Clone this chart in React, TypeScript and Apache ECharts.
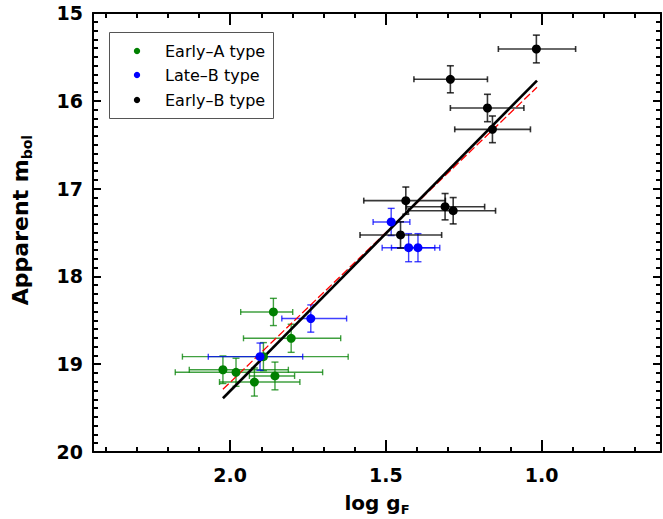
import React, { useEffect, useRef } from "react";
import * as echarts from "echarts";

// ---- data ----
const groupNames = ["Early–A type", "Late–B type", "Early–B type"];
const groupColors = ["#008000", "#0000ff", "#000000"];
const barColors = ["rgba(0,128,0,0.75)", "rgba(0,0,255,0.75)", "rgba(0,0,0,0.78)"];

// Early-A
const eaX = [1.861, 1.804, 1.893, 2.023, 1.981, 1.922, 1.856];
const eaY = [18.405, 18.705, 18.914, 19.063, 19.092, 19.203, 19.134];
const eaXLo = [1.966, 1.957, 2.153, 2.131, 2.176, 2.034, 1.938];
const eaXHi = [1.799, 1.645, 1.621, 1.813, 1.703, 1.776, 1.793];
const eaYErr = [0.155, 0.16, 0.16, 0.157, 0.16, 0.16, 0.158];

// Late-B
const lbX = [1.483, 1.427, 1.397, 1.741, 1.904];
const lbY = [17.38, 17.673, 17.673, 18.48, 18.914];
const lbXLo = [1.541, 1.512, 1.482, 1.834, 2.07];
const lbXHi = [1.423, 1.343, 1.327, 1.626, 1.767];
const lbYErr = [0.155, 0.16, 0.16, 0.155, 0.155];

// Early-B
const ebX = [1.017, 1.293, 1.174, 1.158, 1.436, 1.31, 1.284, 1.453];
const ebY = [15.41, 15.755, 16.082, 16.325, 17.137, 17.206, 17.252, 17.528];
const ebXLo = [1.139, 1.41, 1.293, 1.279, 1.571, 1.434, 1.428, 1.583];
const ebXHi = [0.891, 1.174, 1.057, 1.036, 1.309, 1.183, 1.148, 1.321];
const ebYErr = [0.158, 0.154, 0.156, 0.152, 0.155, 0.15, 0.15, 0.15];

// fits
const fitBlackX = [2.023, 1.015];
const fitBlackY = [19.388, 15.77];
const fitRedX = [2.023, 1.015];
const fitRedY = [19.286, 15.846];

// axes
const xMin = 0.617;
const xMax = 2.44;
const xMajor = [2.0, 1.5, 1.0];
const xMinor = [2.4, 2.3, 2.2, 2.1, 1.9, 1.8, 1.7, 1.6, 1.4, 1.3, 1.2, 1.1, 0.9, 0.8, 0.7];
const yMin = 15;
const yMax = 20;

const groups = [
  { x: eaX, y: eaY, lo: eaXLo, hi: eaXHi, ye: eaYErr },
  { x: lbX, y: lbY, lo: lbXLo, hi: lbXHi, ye: lbYErr },
  { x: ebX, y: ebY, lo: ebXLo, hi: ebXHi, ye: ebYErr },
];

const FONT = "DejaVu Sans";

export default function App() {
  const ref = useRef<HTMLDivElement>(null);
  useEffect(() => {
    if (!ref.current) return;
    const chart = echarts.init(ref.current, null, { renderer: "svg" });

    const errSeries = groups.map((g, gi) => ({
      type: "custom",
      xAxisIndex: 0,
      yAxisIndex: 0,
      z: 2,
      silent: true,
      encode: { x: [0, 2, 3], y: [1] },
      data: g.x.map((xv, i) => [xv, g.y[i], g.lo[i], g.hi[i], g.ye[i]]),
      renderItem: (params: any, api: any) => {
        const x = api.value(0), y = api.value(1), lo = api.value(2), hi = api.value(3), ye = api.value(4);
        const pL = api.coord([lo, y]);
        const pR = api.coord([hi, y]);
        const pT = api.coord([x, y - ye]);
        const pB = api.coord([x, y + ye]);
        const st = { stroke: barColors[gi], lineWidth: gi === 2 ? 1.6 : 1.4, fill: "none" };
        const ln = (x1: number, y1: number, x2: number, y2: number) => ({
          type: "line",
          shape: { x1, y1, x2, y2 },
          style: st,
        });
        const cx = 3, cy = 3.5;
        return {
          type: "group",
          children: [
            ln(pL[0], pL[1], pR[0], pR[1]),
            ln(pL[0], pL[1] - cx, pL[0], pL[1] + cx),
            ln(pR[0], pR[1] - cx, pR[0], pR[1] + cx),
            ln(pT[0], pT[1], pB[0], pB[1]),
            ln(pT[0] - cy, pT[1], pT[0] + cy, pT[1]),
            ln(pB[0] - cy, pB[1], pB[0] + cy, pB[1]),
          ],
        };
      },
    }));

    const scatterSeries = groups.map((g, gi) => ({
      type: "scatter",
      name: groupNames[gi],
      xAxisIndex: 0,
      yAxisIndex: 0,
      z: 4,
      symbol: "circle",
      symbolSize: 9,
      itemStyle: { color: groupColors[gi], opacity: 1 },
      data: g.x.map((xv, i) => [xv, g.y[i]]),
    }));

    const lineSeries = [
      {
        type: "line",
        xAxisIndex: 0,
        yAxisIndex: 0,
        z: 3,
        symbol: "none",
        lineStyle: { color: "#ff0000", width: 1.3, type: [8, 3] },
        data: fitRedX.map((v, i) => [v, fitRedY[i]]),
      },
      {
        type: "line",
        xAxisIndex: 0,
        yAxisIndex: 0,
        z: 3,
        symbol: "none",
        lineStyle: { color: "#000000", width: 2.6 },
        data: fitBlackX.map((v, i) => [v, fitBlackY[i]]),
      },
    ];

    const axisLine = { show: true, onZero: false, lineStyle: { color: "#000", width: 2 } };
    const xBase = (position: string, values: number[], len: number, showLine: boolean, labels: boolean) => ({
      type: "value",
      position,
      min: xMin,
      max: xMax,
      inverse: true,
      axisLine: showLine ? axisLine : { show: false },
      splitLine: { show: false },
      axisTick: {
        show: true,
        inside: true,
        length: len,
        customValues: values,
        lineStyle: { color: "#000", width: 2 },
      },
      axisLabel: labels
        ? {
            show: true,
            customValues: values,
            formatter: (v: number) => v.toFixed(1),
            margin: 13,
            color: "#000",
            fontFamily: FONT,
            fontWeight: "bold",
            fontSize: 19,
          }
        : { show: false },
    });

    const yBase = (position: string, labels: boolean) => ({
      type: "value",
      position,
      min: yMin,
      max: yMax,
      interval: 1,
      inverse: true,
      axisLine: axisLine,
      splitLine: { show: false },
      axisTick: { show: true, inside: true, length: 8, lineStyle: { color: "#000", width: 2 } },
      minorTick: { show: true, splitNumber: 10, length: 5, lineStyle: { color: "#000", width: 2 } },
      minorSplitLine: { show: false },
      axisLabel: labels
        ? { show: true, margin: 10, color: "#000", fontFamily: FONT, fontWeight: "bold", fontSize: 19 }
        : { show: false },
    });

    const legendRows = [51, 75, 100];
    const legendGraphics: any[] = [
      {
        type: "rect",
        left: 109,
        top: 32,
        shape: { width: 164, height: 86 },
        style: { fill: "#fff", stroke: "#555", lineWidth: 1 },
        z: 10,
      },
    ];
    groupNames.forEach((n, i) => {
      legendGraphics.push({
        type: "circle",
        shape: { cx: 137, cy: legendRows[i], r: 3.2 },
        style: { fill: groupColors[i] },
        z: 11,
      });
      legendGraphics.push({
        type: "text",
        x: 165,
        y: legendRows[i],
        style: { text: n, fill: "#000", font: `16px '${FONT}'`, verticalAlign: "middle", align: "left" },
        z: 11,
      });
    });

    const option: any = {
      animation: false,
      grid: { left: 93, right: 2, top: 13, bottom: 67, containLabel: false },
      xAxis: [
        xBase("bottom", xMajor, 12, true, true),
        xBase("bottom", xMinor, 5, false, false),
        xBase("top", xMajor, 12, true, false),
        xBase("top", xMinor, 5, false, false),
      ],
      yAxis: [yBase("left", true), yBase("right", false)],
      series: [...errSeries, ...lineSeries, ...scatterSeries],
      graphic: [
        ...legendGraphics,
        {
          type: "text",
          x: 377,
          y: 503,
          style: {
            text: "{a|log g}{b|F}",
            align: "center",
            verticalAlign: "middle",
            rich: {
              a: { fontFamily: FONT, fontWeight: "bold", fontSize: 20, lineHeight: 26, fill: "#000" },
              b: { fontFamily: FONT, fontWeight: "bold", fontSize: 13, lineHeight: 13, verticalAlign: "bottom", fill: "#000" },
            },
          },
        },
        {
          type: "text",
          x: 20,
          y: 220,
          rotation: Math.PI / 2,
          style: {
            text: "{a|Apparent m}{b|bol}",
            align: "center",
            verticalAlign: "middle",
            rich: {
              a: { fontFamily: FONT, fontWeight: "bold", fontSize: 22, lineHeight: 28, fill: "#000" },
              b: { fontFamily: FONT, fontWeight: "bold", fontSize: 14, lineHeight: 14, verticalAlign: "bottom", fill: "#000" },
            },
          },
        },
      ],
    };
    chart.setOption(option);
    return () => chart.dispose();
  }, []);
  return <div ref={ref} style={{ width: 663, height: 519, position: "absolute", left: 0, top: 0, background: "#fff" }} />;
}
